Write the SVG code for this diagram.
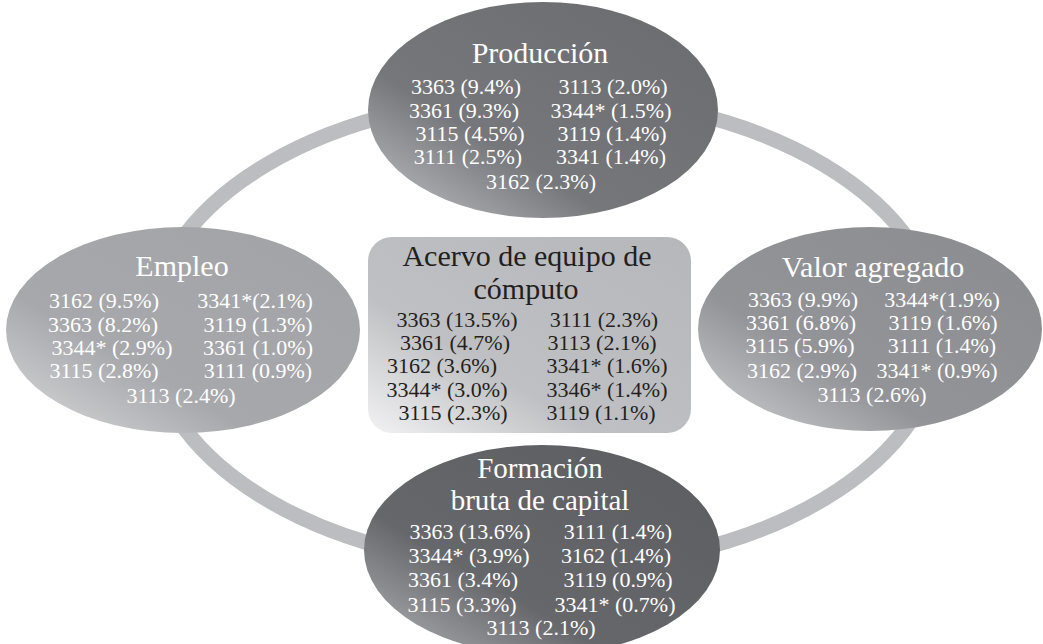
<svg xmlns="http://www.w3.org/2000/svg" width="1043" height="644" viewBox="0 0 1043 644">
<style>
text{font-family:"Liberation Serif","Times New Roman",serif;text-anchor:middle}
.t{font-size:30px}
.t2{font-size:29px}
.d{font-size:22px}
.w{fill:#ffffff}
.k{fill:#231f20}
.ring{fill:none;stroke:#bcbdc1;stroke-width:15}
</style>
<defs>
<linearGradient id="gP" x1="0" y1="1" x2="1" y2="0">
<stop offset="0" stop-color="#c4c5c8"/><stop offset="0.35" stop-color="#76777b"/><stop offset="1" stop-color="#6a6b6f"/>
</linearGradient>
<linearGradient id="gE" x1="0" y1="1" x2="1" y2="0">
<stop offset="0" stop-color="#dcdcde"/><stop offset="0.35" stop-color="#a7a8ac"/><stop offset="1" stop-color="#a2a3a7"/>
</linearGradient>
<linearGradient id="gV" x1="0" y1="1" x2="1" y2="0">
<stop offset="0" stop-color="#d2d3d5"/><stop offset="0.35" stop-color="#939498"/><stop offset="1" stop-color="#8b8c90"/>
</linearGradient>
<linearGradient id="gF" x1="0" y1="1" x2="1" y2="0">
<stop offset="0" stop-color="#b6b7ba"/><stop offset="0.35" stop-color="#66676b"/><stop offset="1" stop-color="#5c5d61"/>
</linearGradient>
<linearGradient id="gA" x1="0" y1="1" x2="1" y2="0">
<stop offset="0" stop-color="#f2f2f3"/><stop offset="0.35" stop-color="#bfc0c3"/><stop offset="1" stop-color="#b6b7bb"/>
</linearGradient>
</defs>
<rect width="1043" height="644" fill="#ffffff"/>
<g id="connectors">
<ellipse class="ring" cx="545" cy="332" rx="395" ry="236"/>
</g>
<g id="produccion">
<ellipse cx="543" cy="110" rx="175" ry="108" fill="url(#gP)"/>
<text class="t w" x="540" y="63">Producción</text>
<text class="d w" x="466" y="94">3363 (9.4%)</text><text class="d w" x="613" y="94">3113 (2.0%)</text>
<text class="d w" x="464" y="118">3361 (9.3%)</text><text class="d w" x="611" y="118">3344* (1.5%)</text>
<text class="d w" x="470" y="141">3115 (4.5%)</text><text class="d w" x="612" y="141">3119 (1.4%)</text>
<text class="d w" x="468" y="164">3111 (2.5%)</text><text class="d w" x="611" y="164">3341 (1.4%)</text>
<text class="d w" x="541" y="189">3162 (2.3%)</text>
</g>
<g id="empleo">
<ellipse cx="183" cy="330" rx="177" ry="103" fill="url(#gE)"/>
<text class="t w" x="182" y="276">Empleo</text>
<text class="d w" x="104" y="308">3162 (9.5%)</text><text class="d w" x="255" y="308">3341*(2.1%)</text>
<text class="d w" x="103" y="332">3363 (8.2%)</text><text class="d w" x="258" y="332">3119 (1.3%)</text>
<text class="d w" x="112" y="355">3344* (2.9%)</text><text class="d w" x="258" y="355">3361 (1.0%)</text>
<text class="d w" x="104" y="378">3115 (2.8%)</text><text class="d w" x="258" y="378">3111 (0.9%)</text>
<text class="d w" x="181" y="403">3113 (2.4%)</text>
</g>
<g id="valor">
<ellipse cx="870" cy="329" rx="172" ry="102" fill="url(#gV)"/>
<text class="t w" x="873" y="277">Valor agregado</text>
<text class="d w" x="803" y="307">3363 (9.9%)</text><text class="d w" x="942" y="307">3344*(1.9%)</text>
<text class="d w" x="801" y="330">3361 (6.8%)</text><text class="d w" x="943" y="330">3119 (1.6%)</text>
<text class="d w" x="800" y="353">3115 (5.9%)</text><text class="d w" x="942" y="353">3111 (1.4%)</text>
<text class="d w" x="802" y="378">3162 (2.9%)</text><text class="d w" x="937" y="378">3341* (0.9%)</text>
<text class="d w" x="872" y="402">3113 (2.6%)</text>
</g>
<g id="formacion">
<ellipse cx="542" cy="550" rx="178" ry="105" fill="url(#gF)"/>
<text class="t2 w" x="540" y="478">Formación<tspan x="540" dy="32">bruta de capital</tspan></text>
<text class="d w" x="470" y="539">3363 (13.6%)</text><text class="d w" x="618" y="539">3111 (1.4%)</text>
<text class="d w" x="469" y="563">3344* (3.9%)</text><text class="d w" x="616" y="563">3162 (1.4%)</text>
<text class="d w" x="463" y="587">3361 (3.4%)</text><text class="d w" x="618" y="587">3119 (0.9%)</text>
<text class="d w" x="462" y="612">3115 (3.3%)</text><text class="d w" x="615" y="612">3341* (0.7%)</text>
<text class="d w" x="541" y="635">3113 (2.1%)</text>
</g>
<g id="acervo">
<rect x="368" y="237" width="323" height="196" rx="24" fill="url(#gA)"/>
<text class="t2 k" x="527" y="266" style="font-size:30px">Acervo de equipo de<tspan x="526" dy="33">cómputo</tspan></text>
<text class="d k" x="457" y="327">3363 (13.5%)</text><text class="d k" x="604" y="327">3111 (2.3%)</text>
<text class="d k" x="455" y="350">3361 (4.7%)</text><text class="d k" x="602" y="350">3113 (2.1%)</text>
<text class="d k" x="442" y="373">3162 (3.6%)</text><text class="d k" x="607" y="373">3341* (1.6%)</text>
<text class="d k" x="447" y="397">3344* (3.0%)</text><text class="d k" x="607" y="397">3346* (1.4%)</text>
<text class="d k" x="453" y="420">3115 (2.3%)</text><text class="d k" x="601" y="420">3119 (1.1%)</text>
</g>
</svg>
